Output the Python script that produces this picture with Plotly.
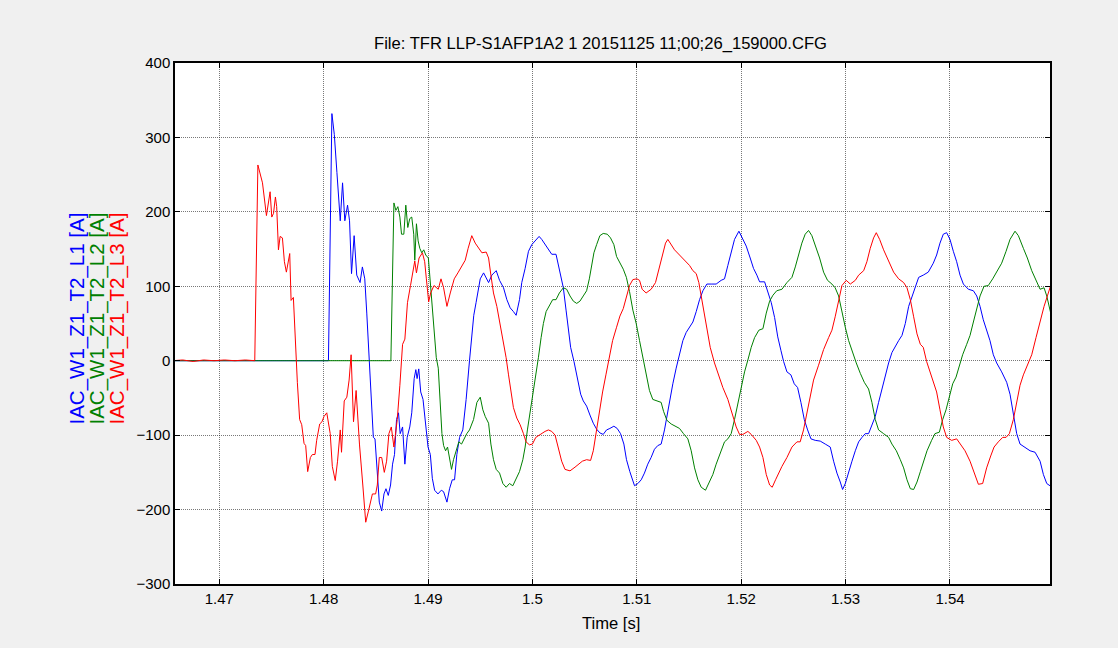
import plotly.graph_objects as go

# ---- data (time in ms, current in A) ----
t_L1 = [1465.5, 1480.46, 1480.79, 1481.02, 1481.27, 1481.59, 1481.81, 1482.03, 1482.29, 1482.48, 1482.67, 1482.92,
        1483.17, 1483.49, 1483.71, 1483.94, 1484.13, 1484.38, 1484.6, 1484.76, 1484.92, 1485.14, 1485.33, 1485.56,
        1485.78, 1485.97, 1486.19, 1486.41, 1486.6, 1486.79, 1486.98, 1487.17, 1487.33, 1487.56, 1487.78, 1488.0,
        1488.25, 1488.44, 1488.67, 1488.83, 1488.95, 1489.11, 1489.3, 1489.52, 1489.78, 1490.0, 1490.22, 1490.41,
        1490.63, 1490.95, 1491.27, 1491.49, 1491.81, 1492.06, 1492.32, 1492.54, 1492.76, 1493.02, 1493.33, 1493.65,
        1493.97, 1494.22, 1494.38, 1494.6, 1494.86, 1495.0, 1495.32, 1495.57, 1495.8, 1496.11, 1496.53, 1496.85,
        1497.23, 1497.55, 1497.87, 1498.18, 1498.44, 1498.76, 1498.98, 1499.3, 1499.62, 1499.94, 1500.25, 1500.64,
        1500.89, 1501.21, 1501.53, 1501.85, 1502.26, 1502.48, 1502.71, 1502.96, 1503.22, 1503.44, 1503.66, 1503.98,
        1504.3, 1504.62, 1504.87, 1505.19, 1505.51, 1505.83, 1506.15, 1506.46, 1506.78, 1507.1, 1507.42, 1507.8,
        1508.12, 1508.44, 1508.76, 1509.01, 1509.33, 1509.62, 1509.78, 1510.1, 1510.42, 1510.73, 1511.05, 1511.37,
        1511.69, 1512.01, 1512.33, 1512.65, 1512.88, 1513.13, 1513.45, 1513.77, 1514.09, 1514.41, 1514.73, 1515.05,
        1515.37, 1515.69, 1516.01, 1516.33, 1516.71, 1517.12, 1517.6, 1518.08, 1518.4, 1518.72, 1519.04, 1519.36,
        1519.78, 1520.1, 1520.48, 1520.86, 1521.18, 1521.5, 1521.76, 1522.24, 1522.56, 1522.88, 1523.2, 1523.5,
        1523.8, 1524.06, 1524.38, 1524.76, 1525.08, 1525.4, 1525.72, 1526.04, 1526.36, 1526.68, 1527.09, 1527.57,
        1528.05, 1528.53, 1528.85, 1529.17, 1529.49, 1529.71, 1529.97, 1530.29, 1530.61, 1530.93, 1531.25, 1531.57,
        1531.88, 1532.2, 1532.52, 1532.84, 1533.16, 1533.48, 1533.8, 1534.12, 1534.44, 1534.76, 1535.08, 1535.4,
        1535.72, 1536.04, 1536.36, 1536.68, 1537.0, 1537.44, 1537.92, 1538.4, 1538.72, 1539.04, 1539.36, 1539.68,
        1540.0, 1540.32, 1540.64, 1540.96, 1541.28, 1541.76, 1542.24, 1542.56, 1542.88, 1543.19, 1543.51, 1543.83,
        1544.15, 1544.47, 1544.95, 1545.43, 1545.75, 1546.07, 1546.39, 1546.71, 1547.19, 1547.67, 1548.15, 1548.63,
        1548.95, 1549.27, 1549.58, 1549.8]
i_L1 = [0, 0, 332, 304, 253, 188, 239, 188, 209, 188, 117, 168,
        115, 105, 126, 110, 64, -1, -56, -103, -105, -144, -190, -202,
        -179, -172, -181, -167, -139, -126, -79, -70, -98, -89, -139, -103,
        -89, -70, -24, -12, -24, -11, -42, -52, -89, -116, -126, -158,
        -174, -179, -174, -176, -190, -172, -160, -160, -126, -103, -93, -52,
        0, 41, 61, 78, 101, 110, 118, 112, 105, 115, 121, 108,
        98, 82, 71, 66, 61, 82, 105, 124, 147, 156, 161, 167,
        163, 156, 149, 143, 143, 128, 115, 98, 68, 41, 18, -1,
        -22, -45, -54, -61, -73, -84, -92, -97, -99, -93, -91, -88,
        -91, -98, -112, -133, -149, -163, -168, -165, -160, -151, -139, -130,
        -119, -114, -112, -93, -75, -52, -31, -10, 8, 27, 38, 45,
        52, 66, 82, 94, 103, 103, 103, 108, 110, 128, 147, 163,
        174, 165, 154, 138, 124, 115, 106, 106, 91, 78, 58, 32,
        14, -1, -15, -19, -31, -36, -56, -79, -93, -105, -107, -108,
        -112, -116, -135, -151, -163, -173, -165, -149, -135, -121, -109, -103,
        -98, -98, -86, -75, -56, -38, -19, -3, 11, 20, 27, 34,
        50, 73, 87, 101, 112, 115, 119, 131, 142, 158, 170, 172,
        163, 147, 133, 115, 103, 96, 94, 87, 73, 55, 41, 27,
        8, -3, -15, -29, -45, -70, -98, -112, -116, -121, -123, -135,
        -153, -165, -168, -172]

t_L2 = [1465.5, 1486.44, 1486.73, 1486.92, 1487.11, 1487.3, 1487.46, 1487.68, 1487.87, 1488.06, 1488.25, 1488.44,
        1488.63, 1488.73, 1488.89, 1489.05, 1489.21, 1489.4, 1489.59, 1489.78, 1490.03, 1490.22, 1490.41, 1490.6,
        1490.79, 1490.98, 1491.17, 1491.33, 1491.49, 1491.68, 1491.87, 1492.06, 1492.25, 1492.44, 1492.7, 1492.95,
        1493.21, 1493.46, 1493.71, 1493.97, 1494.36, 1494.68, 1495.0, 1495.25, 1495.48, 1495.8, 1496.02, 1496.27,
        1496.53, 1496.85, 1497.17, 1497.48, 1497.8, 1498.12, 1498.44, 1498.76, 1499.08, 1499.3, 1499.52, 1499.78,
        1500.03, 1500.29, 1500.57, 1500.83, 1501.05, 1501.31, 1501.62, 1501.94, 1502.26, 1502.58, 1502.96, 1503.28,
        1503.6, 1503.92, 1504.24, 1504.55, 1504.87, 1505.19, 1505.45, 1505.67, 1505.89, 1506.15, 1506.46, 1506.78,
        1507.17, 1507.48, 1507.8, 1508.06, 1508.38, 1508.7, 1509.0, 1509.3, 1509.62, 1509.94, 1510.26, 1510.58,
        1510.89, 1511.21, 1511.53, 1511.92, 1512.33, 1512.56, 1512.88, 1513.29, 1513.77, 1514.09, 1514.47, 1514.89,
        1515.21, 1515.53, 1515.85, 1516.17, 1516.58, 1516.9, 1517.28, 1517.6, 1517.99, 1518.4, 1518.72, 1519.04,
        1519.36, 1519.68, 1520.0, 1520.32, 1520.64, 1520.96, 1521.28, 1521.69, 1522.08, 1522.4, 1522.72, 1523.04,
        1523.4, 1523.9, 1524.38, 1524.86, 1525.18, 1525.5, 1525.81, 1526.13, 1526.45, 1526.77, 1527.09, 1527.51,
        1527.89, 1528.27, 1528.69, 1529.0, 1529.33, 1529.65, 1529.97, 1530.29, 1530.61, 1531.02, 1531.41, 1531.79,
        1532.2, 1532.52, 1532.84, 1533.16, 1533.64, 1534.12, 1534.44, 1534.86, 1535.24, 1535.56, 1535.88, 1536.2,
        1536.52, 1536.84, 1537.16, 1537.48, 1537.8, 1538.24, 1538.56, 1538.98, 1539.3, 1539.62, 1539.94, 1540.26,
        1540.58, 1540.89, 1541.21, 1541.6, 1541.92, 1542.24, 1542.56, 1542.88, 1543.26, 1543.67, 1544.09, 1544.54,
        1544.95, 1545.37, 1545.75, 1546.23, 1546.55, 1547.03, 1547.41, 1547.83, 1548.24, 1548.63, 1549.01, 1549.27,
        1549.58, 1549.8]
i_L2 = [0, 0, 212, 202, 207, 193, 170, 170, 209, 179, 191, 193,
        170, 135, 184, 161, 151, 145, 149, 142, 138, 105, 64, 36,
        4, -10, -52, -98, -114, -121, -116, -130, -146, -133, -121, -109,
        -112, -105, -98, -93, -79, -56, -49, -66, -75, -84, -112, -133,
        -146, -151, -165, -170, -165, -168, -158, -149, -133, -116, -93, -70,
        -42, -19, 4, 31, 50, 66, 75, 82, 82, 91, 98, 96,
        87, 80, 77, 80, 87, 94, 110, 128, 145, 156, 168, 171,
        170, 165, 156, 140, 131, 123, 112, 93, 68, 50, 27, 4,
        -19, -40, -52, -54, -56, -68, -80, -85, -88, -91, -98, -105,
        -121, -144, -160, -170, -174, -165, -153, -139, -123, -109, -105, -98,
        -79, -56, -33, -15, 1, 18, 31, 41, 43, 64, 80, 88,
        94, 96, 105, 112, 126, 142, 158, 170, 175, 168, 156, 138,
        119, 108, 103, 98, 87, 64, 45, 27, 13, -3, -17, -29,
        -38, -56, -79, -93, -98, -103, -112, -121, -133, -144, -160, -172,
        -173, -163, -149, -135, -121, -107, -98, -96, -79, -66, -47, -31,
        -22, -6, 8, 22, 34, 52, 71, 87, 100, 101, 110, 121,
        131, 147, 163, 174, 168, 151, 138, 121, 108, 96, 98, 87,
        68, 55]

t_L3 = [1465.5, 1466.5, 1467.5, 1468.5, 1469.5, 1470.5, 1471.5, 1472.5, 1473.4, 1473.7, 1474.14, 1474.52,
        1474.87, 1475.03, 1475.2, 1475.38, 1475.5, 1475.67, 1475.83, 1476.05, 1476.24, 1476.43, 1476.75, 1476.88,
        1477.1, 1477.32, 1477.48, 1477.7, 1477.9, 1478.12, 1478.28, 1478.47, 1478.73, 1478.92, 1479.17, 1479.33,
        1479.62, 1479.84, 1480.03, 1480.3, 1480.63, 1480.83, 1481.11, 1481.33, 1481.59, 1481.71, 1481.97, 1482.22,
        1482.44, 1482.63, 1482.86, 1483.11, 1483.43, 1483.75, 1484.03, 1484.29, 1484.67, 1484.98, 1485.14, 1485.33,
        1485.56, 1485.81, 1486.03, 1486.25, 1486.48, 1486.73, 1487.05, 1487.3, 1487.56, 1487.78, 1488.03, 1488.32,
        1488.51, 1488.73, 1488.89, 1489.14, 1489.46, 1489.68, 1489.84, 1490.06, 1490.25, 1490.57, 1490.98, 1491.24,
        1491.49, 1491.81, 1492.13, 1492.51, 1492.86, 1493.24, 1493.56, 1493.84, 1494.19, 1494.52, 1494.84, 1495.16,
        1495.57, 1495.8, 1496.02, 1496.27, 1496.59, 1496.91, 1497.23, 1497.48, 1497.71, 1497.93, 1498.18, 1498.5,
        1498.82, 1499.14, 1499.39, 1499.71, 1500.0, 1500.32, 1500.73, 1501.21, 1501.53, 1501.85, 1502.17, 1502.48,
        1502.8, 1503.12, 1503.6, 1504.08, 1504.39, 1504.78, 1505.19, 1505.57, 1505.83, 1506.08, 1506.4, 1506.72,
        1507.04, 1507.36, 1507.68, 1508.06, 1508.38, 1508.7, 1509.0, 1509.3, 1509.62, 1510.0, 1510.26, 1510.51,
        1510.89, 1511.37, 1511.79, 1512.11, 1512.43, 1512.75, 1512.97, 1513.29, 1513.61, 1514.09, 1514.57, 1515.05,
        1515.37, 1515.69, 1515.94, 1516.17, 1516.49, 1516.74, 1517.03, 1517.44, 1517.76, 1518.24, 1518.72, 1519.14,
        1519.52, 1519.84, 1520.16, 1520.64, 1520.96, 1521.44, 1521.76, 1522.08, 1522.4, 1522.72, 1522.97, 1523.29,
        1523.6, 1523.9, 1524.38, 1524.86, 1525.34, 1525.65, 1525.97, 1526.29, 1526.61, 1526.93, 1527.41, 1527.89,
        1528.37, 1528.69, 1529.0, 1529.33, 1529.65, 1530.06, 1530.45, 1530.93, 1531.25, 1531.73, 1532.04, 1532.36,
        1532.68, 1532.94, 1533.26, 1533.64, 1534.12, 1534.6, 1535.08, 1535.56, 1535.88, 1536.2, 1536.52, 1536.84,
        1537.16, 1537.44, 1537.76, 1538.08, 1538.4, 1538.72, 1539.04, 1539.36, 1539.68, 1540.16, 1540.64, 1540.96,
        1541.44, 1541.92, 1542.4, 1542.72, 1543.13, 1543.51, 1543.9, 1544.22, 1544.63, 1545.05, 1545.37, 1545.69,
        1546.07, 1546.39, 1546.71, 1547.03, 1547.41, 1547.83, 1548.24, 1548.63, 1549.01, 1549.33, 1549.58, 1549.8]
i_L3 = [0, 1, -1, 1, 0, 1, 0, 1, 0, 263, 239, 195,
        227, 193, 198, 220, 207, 149, 167, 165, 133, 119, 144, 81,
        85, 13, -29, -79, -86, -111, -114, -149, -130, -126, -126, -107,
        -85, -82, -75, -70, -98, -142, -161, -135, -93, -123, -54, -49,
        -26, 8, -82, -40, -112, -167, -217, -202, -179, -179, -167, -130,
        -130, -150, -135, -98, -89, -116, -79, -33, 22, 29, 78, 101,
        115, 134, 118, 138, 145, 133, 110, 79, 91, 101, 96, 110,
        98, 73, 91, 110, 118, 127, 135, 151, 168, 158, 151, 145,
        146, 138, 115, 91, 73, 50, 27, 4, -19, -40, -63, -77,
        -86, -98, -109, -113, -112, -103, -99, -95, -93, -95, -100, -119,
        -135, -146, -148, -143, -139, -135, -133, -134, -121, -98, -66, -42,
        -19, 6, 27, 45, 60, 70, 85, 101, 109, 110, 108, 96,
        91, 96, 105, 124, 142, 158, 163, 156, 149, 142, 135, 128,
        121, 117, 105, 87, 64, 41, 18, -3, -17, -36, -52, -70,
        -89, -99, -99, -95, -99, -107, -116, -130, -153, -167, -170, -160,
        -150, -142, -130, -116, -109, -109, -93, -70, -47, -26, -6, 15,
        31, 41, 59, 82, 101, 108, 103, 108, 115, 121, 133, 151,
        165, 172, 163, 149, 133, 119, 110, 105, 98, 82, 59, 36,
        22, 18, -1, -15, -26, -42, -66, -89, -103, -107, -105, -112,
        -121, -135, -153, -166, -165, -144, -128, -116, -109, -103, -103, -98,
        -79, -56, -33, -19, -6, 8, 31, 54, 73, 87, 100, 108]

series_names = ["IAC_W1_Z1_T2_L1 [A]", "IAC_W1_Z1_T2_L2 [A]", "IAC_W1_Z1_T2_L3 [A]"]
series_colors = ["#0000ff", "#008000", "#ff0000"]
x_ticks = [1.47, 1.48, 1.49, 1.50, 1.51, 1.52, 1.53, 1.54]
x_tick_text = ["1.47", "1.48", "1.49", "1.5", "1.51", "1.52", "1.53", "1.54"]
y_ticks = [-300, -200, -100, 0, 100, 200, 300, 400]
title_text = "File: TFR LLP-S1AFP1A2 1 20151125 11;00;26_159000.CFG"
x_title = "Time [s]"

FONT = "Liberation Sans, Arial, sans-serif"

fig = go.Figure()
for t, i, name, col in zip([t_L1, t_L2, t_L3], [i_L1, i_L2, i_L3], series_names, series_colors):
    fig.add_trace(go.Scatter(x=[v / 1000.0 for v in t], y=i, mode="lines", name=name,
                             line=dict(color=col, width=1), showlegend=False, hoverinfo="skip"))

axis_common = dict(showline=True, linecolor="black", linewidth=1.5, mirror="ticks",
                   ticks="inside", ticklen=5, tickcolor="black", tickwidth=1,
                   showgrid=True, gridcolor="rgba(30,30,30,0.6)", griddash="1px,1px", gridwidth=1,
                   zeroline=False, tickfont=dict(family=FONT, size=15, color="black"))

fig.update_layout(
    width=1118, height=648,
    margin=dict(l=175, r=68, t=63, b=64),
    paper_bgcolor="#f0f0f0", plot_bgcolor="white",
    xaxis=dict(range=[1.46576, 1.54958], tickvals=x_ticks, ticktext=x_tick_text, **axis_common),
    yaxis=dict(range=[-300, 400], tickvals=y_ticks, **axis_common),
)

annotations = [
    dict(text=title_text, xref="paper", yref="paper", x=(600 - 175) / 875, y=1, yshift=20,
         xanchor="center", yanchor="middle", showarrow=False,
         font=dict(family=FONT, size=16.6, color="black")),
    dict(text=x_title, xref="paper", yref="paper", x=(611 - 175) / 875, y=0, yshift=-39,
         xanchor="center", yanchor="middle", showarrow=False,
         font=dict(family=FONT, size=16.6, color="black")),
]
for k, (name, col) in enumerate(zip(series_names, series_colors)):
    annotations.append(dict(text=name, xref="paper", yref="paper", x=0, y=0.5,
                            xshift=-99 + 20 * k, yshift=5, textangle=-90,
                            xanchor="center", yanchor="middle", showarrow=False,
                            font=dict(family=FONT, size=20.5, color=col)))
fig.update_layout(annotations=annotations)

fig.write_html("out.html")
